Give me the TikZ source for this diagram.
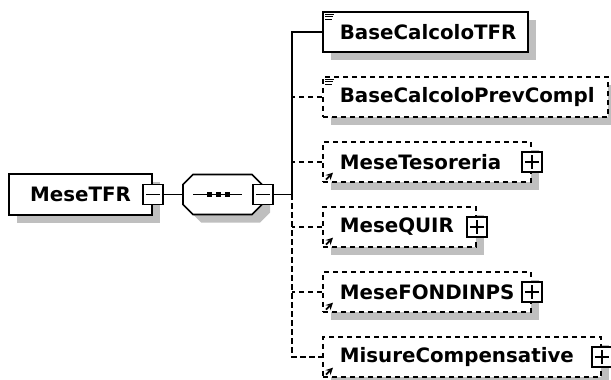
\documentclass[tikz,border=0pt]{standalone}
\usepackage{fontspec}
\setmainfont{DejaVu Sans}
\usetikzlibrary{shadows}

\begin{document}
\begin{tikzpicture}[
		x=0.025cm, y=-0.025cm,
		line width=1.2pt,
		shadowed/.style={
			drop shadow={shadow xshift=0.2cm, shadow yshift=-0.2cm,
				fill=black!25, opacity=1}
		},
		rootbox/.style={
			draw,
			fill=white,
			shadowed,
			minimum width=3.575cm,
			minimum height=1.025cm,
			font=\bfseries\fontsize{14.1}{17}\selectfont
		},
		seqbox/.style={
			minimum width=1.975cm,
			minimum height=1cm,
			inner sep=0pt
		},
		kidbox/.style={
			draw,
			fill=white,
			shadowed,
			anchor=west,
			minimum height=1cm,
			inner sep=0pt
		},
		kidtext/.style={
			anchor=west,
			inner sep=0pt,
			font=\bfseries\fontsize{14.1}{17}\selectfont
		},
		optline/.style={dash pattern=on 3.6pt off 2.8pt},
		toggle/.style={
			draw,
			fill=white,
			minimum size=0.5cm,
			inner sep=0pt
		},
		minusbox/.style={
			toggle,
			path picture={
				\draw ([xshift=0.08cm]path picture bounding box.west)
					-- ([xshift=-0.08cm]path picture bounding box.east);
			}
		},
		plusbox/.style={
			toggle,
			path picture={
				\draw ([xshift=0.08cm]path picture bounding box.west)
					-- ([xshift=-0.08cm]path picture bounding box.east);
				\draw ([yshift=0.08cm]path picture bounding box.south)
					-- ([yshift=-0.08cm]path picture bounding box.north);
			}
		},
		conn/.style={draw, line width=1.2pt}
		]
		
		\useasboundingbox (0,0) rectangle (611,380);
		
		% Root element
		\node[rootbox] (root) at (80.5,194.5) {MeseTFR};
		\node[minusbox] (rootx) at (root.east) {};
		
		% Sequence compositor (octagon drawn by hand)
		\node[seqbox] (seq) at (222.5,194.5) {};
		\fill[black!25, shift={(8,8)}] (193,174.5) -- (252,174.5) -- (262,184.5)
			-- (262,204.5) -- (252,214.5) -- (193,214.5) -- (183,204.5)
			-- (183,184.5) -- cycle;
		\draw[fill=white] (193,174.5) -- (252,174.5) -- (262,184.5)
			-- (262,204.5) -- (252,214.5) -- (193,214.5) -- (183,204.5)
			-- (183,184.5) -- cycle;
		\node[minusbox] (seqx) at (seq.east) {};
		\draw (193,194.5) -- (242,194.5);
		\foreach \cx in {209,218,227}
			\fill (\cx-2.5,192) rectangle (\cx+2.5,197);
		
		\coordinate (jn) at (292,194.5);
		
		% Child elements
		\node[kidbox, minimum width=5.125cm] (tfr) at (322,32) {};
		\node[kidtext] (tfrlbl) at ([xshift=0.425cm]tfr.west) {BaseCalcoloTFR};
		
		\node[kidbox, optline, minimum width=7.125cm] (prev) at (322,97) {};
		\node[kidtext] (prevlbl) at ([xshift=0.425cm]prev.west) {BaseCalcoloPrevCompl};
		
		\node[kidbox, optline, minimum width=5.2cm] (tes) at (322,162) {};
		\node[kidtext] (teslbl) at ([xshift=0.425cm]tes.west) {MeseTesoreria};
		\node[plusbox] (tesx) at (tes.east) {};
		
		\node[kidbox, optline, minimum width=3.825cm] (quir) at (322,227) {};
		\node[kidtext] (quirlbl) at ([xshift=0.425cm]quir.west) {MeseQUIR};
		\node[plusbox] (quirx) at (quir.east) {};
		
		\node[kidbox, optline, minimum width=5.2cm] (fond) at (322,292) {};
		\node[kidtext] (fondlbl) at ([xshift=0.425cm]fond.west) {MeseFONDINPS};
		\node[plusbox] (fondx) at (fond.east) {};
		
		\node[kidbox, optline, minimum width=6.95cm] (mis) at (322,357) {};
		\node[kidtext] (mislbl) at ([xshift=0.425cm]mis.west) {MisureCompensative};
		\node[plusbox] (misx) at (mis.east) {};
		
		% Icons
		\foreach \n in {tfr,prev}
			\draw[line width=0.6pt]
				([xshift=0.075cm,yshift=-0.07cm]\n.north west) -- +(9,0)
				+(0,2.5) -- +(8,2.5)
				+(0,5) -- +(7,5);
		\foreach \n in {tes,quir,fond,mis}
			\draw[line width=1.2pt, -stealth]
				([xshift=0.1cm,yshift=0.08cm]\n.south west) -- +(7,-7);
		
		% Connectors
		\draw[conn] (rootx) -- (seq);
		\draw[conn] (seqx) -- (jn);
		\draw[conn] (tfr.west) -| (jn);
		\draw[conn, optline] (jn) |- (mis.west);
		\foreach \n in {prev,tes,quir,fond}
			\draw[conn, optline] (\n.west) -- (\n.west -| jn);
		
	\end{tikzpicture}
\end{document}
